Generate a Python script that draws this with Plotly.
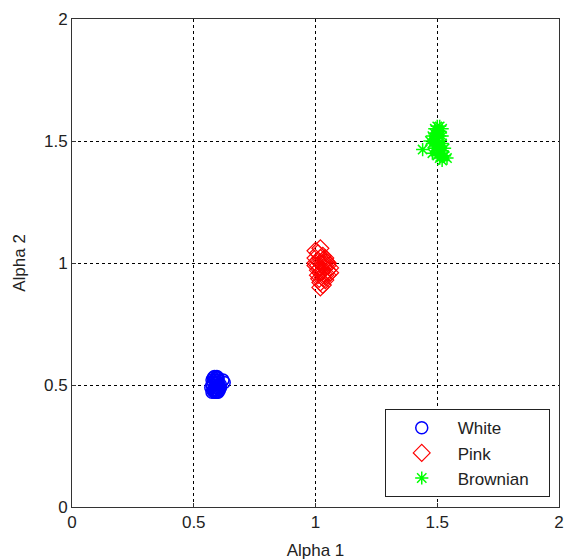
import plotly.graph_objects as go

white_x = [0.58, 0.59, 0.60, 0.585, 0.595, 0.575, 0.605, 0.59, 0.58, 0.60, 0.585, 0.595, 0.61, 0.57, 0.59,
           0.60, 0.58, 0.595, 0.585, 0.605, 0.59, 0.575, 0.60, 0.59, 0.625, 0.58, 0.595, 0.60, 0.585, 0.59,
           0.62, 0.575, 0.60, 0.61]
white_y = [0.48, 0.49, 0.50, 0.47, 0.51, 0.50, 0.48, 0.52, 0.53, 0.53, 0.49, 0.47, 0.50, 0.49, 0.47,
           0.51, 0.51, 0.535, 0.52, 0.49, 0.48, 0.47, 0.47, 0.50, 0.51, 0.475, 0.53, 0.475, 0.535, 0.505,
           0.52, 0.52, 0.52, 0.49]

pink_x = [1.00, 1.01, 1.02, 1.03, 1.04, 1.05, 1.06, 1.02, 1.03, 1.01, 1.04, 1.00, 1.02, 1.03, 1.05,
          1.01, 1.02, 1.04, 1.03, 1.02, 1.01, 1.00, 1.04, 1.06, 1.05, 1.03, 1.02, 1.01, 1.03, 1.04,
          1.02, 1.00, 1.05, 1.015, 1.035, 1.025, 1.045]
pink_y = [1.05, 1.04, 1.02, 1.00, 0.98, 0.97, 0.98, 0.96, 0.94, 0.99, 1.01, 1.02, 0.92, 0.95, 1.00,
          0.97, 1.00, 0.95, 1.03, 0.98, 1.01, 0.99, 0.93, 0.96, 0.99, 0.97, 0.90, 0.95, 0.91, 1.02,
          1.06, 1.00, 0.95, 0.935, 0.985, 0.965, 1.005]

brown_x = [1.49, 1.50, 1.51, 1.52, 1.48, 1.50, 1.51, 1.49, 1.52, 1.53, 1.50, 1.48, 1.51, 1.50, 1.52,
           1.49, 1.53, 1.50, 1.51, 1.47, 1.49, 1.52, 1.50, 1.51, 1.54, 1.44, 1.48, 1.50, 1.52, 1.51]
brown_y = [1.55, 1.56, 1.54, 1.52, 1.52, 1.50, 1.48, 1.47, 1.46, 1.44, 1.44, 1.49, 1.52, 1.53, 1.49,
           1.50, 1.47, 1.46, 1.43, 1.50, 1.53, 1.55, 1.48, 1.45, 1.43, 1.465, 1.45, 1.51, 1.42, 1.56]

series_names = ["White", "Pink", "Brownian"]
x_ticks = [0, 0.5, 1, 1.5, 2]
y_ticks = [0, 0.5, 1, 1.5, 2]
tick_text = ["0", "0.5", "1", "1.5", "2"]

FONT = "Liberation Sans, Arial"
PAD = "\u00a0\u00a0\u00a0"

fig = go.Figure()
fig.add_trace(go.Scatter(x=white_x, y=white_y, mode="markers", name=series_names[0],
                         marker=dict(symbol="circle-open", size=12, color="#0000ff",
                                     line=dict(width=1.5, color="#0000ff"))))
fig.add_trace(go.Scatter(x=pink_x, y=pink_y, mode="markers", name=series_names[1],
                         marker=dict(symbol="diamond-open", size=13, color="#ff0000",
                                     line=dict(width=1.2, color="#ff0000"))))
fig.add_trace(go.Scatter(x=brown_x, y=brown_y, mode="markers", name=series_names[2] + PAD,
                         marker=dict(symbol="asterisk-open", size=11, color="#00ff00",
                                     line=dict(width=1.5, color="#00ff00"))))

axis_common = dict(
    range=[0, 2], showgrid=True, gridcolor="black", gridwidth=1, griddash="3px,3px",
    showline=True, linecolor="#333333", linewidth=1, mirror=True, zeroline=False,
    ticks="inside", ticklen=4, tickcolor="#333333", automargin=False,
    tickfont=dict(family=FONT, size=17, color="#222222"),
)

fig.update_layout(
    width=566, height=560,
    margin=dict(l=72, r=7, t=19, b=53),
    paper_bgcolor="white", plot_bgcolor="white",
    xaxis=dict(**axis_common, tickvals=x_ticks, ticktext=tick_text,
               title=dict(text="Alpha 1", font=dict(family=FONT, size=17, color="#222222"),
                          standoff=14)),
    yaxis=dict(**axis_common, tickvals=y_ticks, ticktext=tick_text,
               title=dict(text="Alpha 2", font=dict(family=FONT, size=17, color="#222222"),
                          standoff=14)),
    legend=dict(x=0.981, y=0.02, xanchor="right", yanchor="bottom",
                bgcolor="white", bordercolor="#222222", borderwidth=1,
                font=dict(family=FONT, size=17, color="#222222"),
                itemwidth=62, tracegroupgap=0),
    showlegend=True,
)

fig.write_html("out.html")
